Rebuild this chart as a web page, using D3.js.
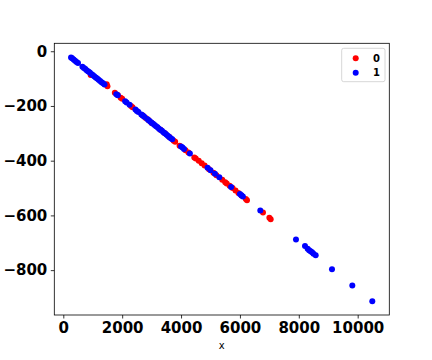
<!DOCTYPE html>
<html>
<head>
<meta charset="utf-8">
<script src="https://cdn.jsdelivr.net/npm/d3@7"></script>
<style>
  body { margin: 0; background: #fff; }
  svg { display: block; }
</style>
</head>
<body>
<div id="vis"></div>
<script>
// datos
const X0 = [930, 1474, 1500, 1750, 1850, 1950, 2000, 2300, 2350, 2700, 2800, 2900, 3000, 3300, 3450, 3600, 3750, 3800,
  3950, 4150, 4250, 4450, 4500, 4600, 4700, 4800, 4950, 5100, 5200, 5400, 5500, 5550, 5650, 5750, 5850, 5950, 6050,
  6200, 6240, 6783, 7000, 7044];
const Y0 = [-87, -121, -128, -152, -160, -170, -174, -200, -205, -235, -244, -252, -262, -287, -300, -313, -327, -331,
  -345, -362, -370, -388, -392, -400, -409, -418, -431, -444, -453, -470, -479, -483, -492, -500, -509, -518, -527,
  -540, -545, -589, -609, -614];

const X1 = [262, 300, 350, 400, 450, 500, 650, 700, 750, 800, 850, 900, 950, 1000, 1050, 1100, 1150, 1200, 1250, 1300,
  1350, 1400, 1800, 1850, 2100, 2150, 2250, 2450, 2500, 2550, 2650, 2700, 2750, 2850, 2900, 2950, 3000, 3050, 3100,
  3150, 3200, 3250, 3300, 3350, 3400, 3450, 3500, 3550, 3600, 3650, 3700, 4000, 4050, 4100, 4300, 4900, 5000, 5150,
  5300, 5700, 6000, 6050, 6100, 6692, 7904, 8210, 8300, 8350, 8400, 8450, 8500, 8573, 9127, 9817, 10496];
const Y1 = [-23, -26, -30, -35, -39, -43, -57, -61, -65, -70, -74, -78, -83, -87, -91, -96, -100, -104, -109, -113,
  -117, -122, -157, -161, -183, -187, -196, -213, -218, -222, -231, -235, -239, -248, -252, -257, -261, -265, -270,
  -274, -278, -283, -287, -291, -296, -300, -304, -309, -313, -318, -322, -348, -352, -357, -374, -426, -435, -448,
  -461, -496, -522, -526, -531, -582, -688, -712, -722, -727, -731, -735, -740, -746, -797, -856, -914];

const CLASES = ["0", "1"];
const COLORES = ["red", "blue"];
const X_TICKS = [0, 2000, 4000, 6000, 8000, 10000];
const Y_TICKS = [0, -200, -400, -600, -800];

const WIDTH = 432;
const HEIGHT = 360;
const M = { left: 54.3, right: 389.3, top: 43.3, bottom: 315 };
const RADIO = 3;

const SVG = d3.select("#vis").append("svg").attr("width", WIDTH).attr("height", HEIGHT);

const x = d3.scaleLinear().domain([-306, 11074]).range([M.left, M.right]);
const y = d3.scaleLinear().domain([-964, 29]).range([M.bottom, M.top]);

const grupos = [
  X0.map((v, i) => ({ x: v, y: Y0[i] })),
  X1.map((v, i) => ({ x: v, y: Y1[i] }))
];

// puntos
grupos.forEach((pts, g) => {
  SVG.append("g").selectAll("circle")
    .data(pts)
    .enter()
    .append("circle")
    .attr("cx", d => x(d.x))
    .attr("cy", d => y(d.y))
    .attr("r", RADIO)
    .attr("fill", COLORES[g]);
});

// ejes
const fmt = d => d < 0 ? "\u2212" + Math.abs(d) : String(d);

const ejeX = SVG.append("g")
  .attr("transform", `translate(0,${M.bottom})`)
  .call(d3.axisBottom(x).tickValues(X_TICKS).tickFormat(fmt).tickSize(3.5).tickPadding(3.5));
const ejeY = SVG.append("g")
  .attr("transform", `translate(${M.left},0)`)
  .call(d3.axisLeft(y).tickValues(Y_TICKS).tickFormat(fmt).tickSize(3.5).tickPadding(3.5));

[ejeX, ejeY].forEach(e => {
  e.select(".domain").remove();
  e.selectAll("line").attr("stroke", "#000").attr("stroke-width", 0.8);
  e.selectAll("text")
    .style("font-family", "DejaVu Sans, sans-serif")
    .style("font-size", "15px")
    .style("font-weight", "bold")
    .attr("fill", "#000");
});

// marco
SVG.append("rect")
  .attr("x", M.left).attr("y", M.top)
  .attr("width", M.right - M.left).attr("height", M.bottom - M.top)
  .attr("fill", "none").attr("stroke", "#000").attr("stroke-width", 0.8);

SVG.append("text")
  .attr("x", (M.left + M.right) / 2)
  .attr("y", 349)
  .attr("text-anchor", "middle")
  .style("font-family", "DejaVu Sans, sans-serif")
  .style("font-size", "10px")
  .text("x");

// leyenda
const ley = SVG.append("g");
ley.append("rect")
  .attr("x", 341.7).attr("y", 48.3).attr("width", 43.3).attr("height", 33.4)
  .attr("rx", 2).attr("fill", "#fff").attr("fill-opacity", 0.8)
  .attr("stroke", "#ccc").attr("stroke-width", 0.8);
CLASES.forEach((c, i) => {
  ley.append("circle")
    .attr("cx", 355.7).attr("cy", 58.3 + i * 14.4)
    .attr("r", RADIO).attr("fill", COLORES[i]);
  ley.append("text")
    .attr("x", 373).attr("y", 58.3 + i * 14.4)
    .attr("dy", "0.35em")
    .style("font-family", "DejaVu Sans, sans-serif")
    .style("font-size", "10px")
    .style("font-weight", "bold")
    .text(c);
});
</script>
</body>
</html>
